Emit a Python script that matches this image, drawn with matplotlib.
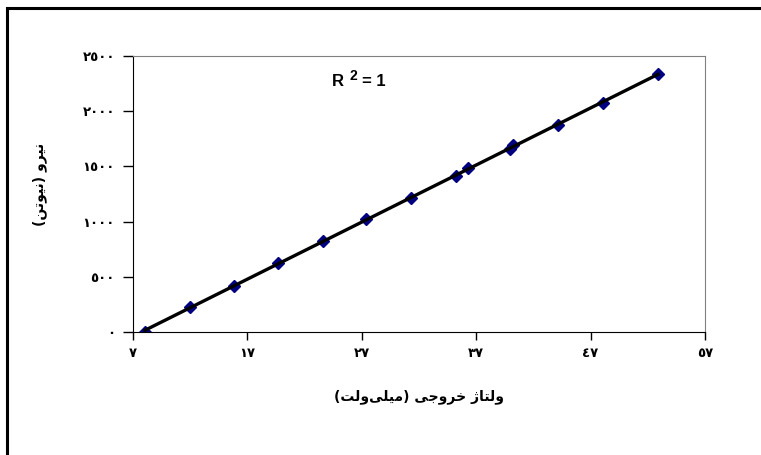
import matplotlib
matplotlib.use("Agg")
import matplotlib.pyplot as plt
from matplotlib.patches import Rectangle
import numpy as np

# data
voltage = [8.05, 11.98, 15.85, 19.70, 23.63, 27.34, 31.27, 35.23, 36.31, 39.95, 40.20, 44.18, 48.11, 52.89]
force = [0, 224, 419, 622, 827, 1024, 1211, 1413, 1488, 1660, 1697, 1875, 2072, 2337]
x_ticks = [7, 17, 27, 37, 47, 57]
x_tick_labels = ["٧", "١٧", "٢٧", "٣٧", "٤٧", "٥٧"]
y_ticks = [0, 500, 1000, 1500, 2000, 2500]
y_tick_labels = ["٠", "٥٠٠", "١٠٠٠", "١٥٠٠", "٢٠٠٠", "٢٥٠٠"]
x_label = "ولتاژ خروجی (میلی\u200cولت)"
y_label = "نیرو (نیوتن)"
r2_label = "1"

# tiny arabic shaper (matplotlib has no shaping / bidi)
FORMS = {
    'ن': ('\uFEE5', '\uFEE6', '\uFEE7', '\uFEE8'),
    'ی': ('\uFBFC', '\uFBFD', '\uFBFE', '\uFBFF'),
    'ت': ('\uFE95', '\uFE96', '\uFE97', '\uFE98'),
    'خ': ('\uFEA5', '\uFEA6', '\uFEA7', '\uFEA8'),
    'ج': ('\uFE9D', '\uFE9E', '\uFE9F', '\uFEA0'),
    'م': ('\uFEE1', '\uFEE2', '\uFEE3', '\uFEE4'),
    'ل': ('\uFEDD', '\uFEDE', '\uFEDF', '\uFEE0'),
    'ر': ('\uFEAD', '\uFEAE'),
    'و': ('\uFEED', '\uFEEE'),
    'ا': ('\uFE8D', '\uFE8E'),
    'ژ': ('\uFB8A', '\uFB8B'),
}


def shape(s):
    out = []
    for i, ch in enumerate(s):
        if ch == '\u200c':
            continue
        if ch not in FORMS:
            out.append({'(': ')', ')': '('}.get(ch, ch))
            continue
        prev = s[i - 1] if i > 0 else ''
        nxt = s[i + 1] if i + 1 < len(s) else ''
        dual = len(FORMS[ch]) == 4
        join_prev = prev in FORMS and len(FORMS[prev]) == 4
        join_next = dual and nxt in FORMS
        if join_prev and join_next:
            f = FORMS[ch][3]
        elif join_prev:
            f = FORMS[ch][1]
        elif join_next:
            f = FORMS[ch][2]
        else:
            f = FORMS[ch][0]
        out.append(f)
    return ''.join(reversed(out))


W, H = 761, 455
fig = plt.figure(figsize=(W / 100, H / 100), dpi=100)
ax = fig.add_axes([133 / W, 1 - 332 / H, (705 - 133) / W, (332 - 56) / H])

# outer chart border (runs off right/bottom like the original)
fig.patches.append(Rectangle((7 / W, -0.05), 1.1, 1 - 8 / H + 0.05, transform=fig.transFigure,
                             fill=False, edgecolor="black", lw=2.2, clip_on=False))

coef = np.polyfit(voltage, force, 1)
xs = np.array([voltage[0], voltage[-1]])
ax.plot(voltage, force, linestyle="none", marker="D", ms=6.5, color="#000080", zorder=2)
ax.plot(xs, np.polyval(coef, xs), color="black", lw=2.4, zorder=3)

ax.set_xlim(7, 57)
ax.set_ylim(0, 2500)
ax.set_xticks(x_ticks)
ax.set_xticklabels(x_tick_labels, fontweight="bold", fontsize=9.5, family="DejaVu Sans")
ax.set_yticks(y_ticks)
ax.set_yticklabels(y_tick_labels, fontweight="bold", fontsize=9.5, family="DejaVu Sans")
ax.tick_params(axis="x", direction="out", length=6, width=1, pad=5)
ax.tick_params(axis="y", direction="out", length=7, width=1, pad=6)

for s in ["top", "right"]:
    ax.spines[s].set_color("#808080")
for s in ["left", "bottom"]:
    ax.spines[s].set_color("black")

fig.text(419 / W, 1 - 397 / H, shape(x_label), ha="center", va="center",
         fontweight="bold", fontsize=10, family="DejaVu Sans")
fig.text(40 / W, 1 - 184 / H, shape(y_label), ha="center", va="center", rotation=90,
         fontweight="bold", fontsize=10, family="DejaVu Sans")

ax.text(332 / W, 1 - 81 / H, "R", transform=fig.transFigure, ha="left", va="center",
        fontweight="bold", fontsize=12, family="Liberation Sans")
ax.text(349 / W, 1 - 76 / H, "2", transform=fig.transFigure, ha="left", va="center",
        fontweight="bold", fontsize=10, family="Liberation Sans")
ax.text(362 / W, 1 - 81 / H, "= " + r2_label, transform=fig.transFigure, ha="left", va="center",
        fontweight="bold", fontsize=12, family="Liberation Sans")

fig.savefig("out.png", dpi=100)
